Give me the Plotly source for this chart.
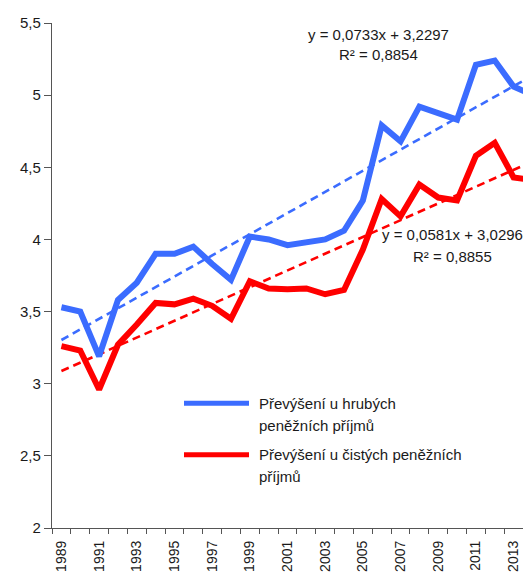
import plotly.graph_objects as go

years = list(range(1989, 2015))
gross = [3.53, 3.50, 3.19, 3.58, 3.70, 3.90, 3.90, 3.95, 3.83, 3.72, 4.02, 4.00,
         3.96, 3.98, 4.00, 4.06, 4.27, 4.79, 4.68, 4.92, 4.88, 4.83, 5.21, 5.24,
         5.06, 5.00]
net = [3.26, 3.23, 2.96, 3.27, 3.41, 3.56, 3.55, 3.59, 3.54, 3.45, 3.71, 3.66,
       3.655, 3.66, 3.62, 3.65, 3.93, 4.28, 4.16, 4.38, 4.29, 4.27, 4.58, 4.67,
       4.43, 4.41]

trend_gross = (0.0733, 3.2297, 0.8854)
trend_net = (0.0581, 3.0296, 0.8855)

series_names = ["Převýšení u hrubých", "peněžních příjmů",
                "Převýšení u čistých peněžních", "příjmů"]
eq_texts = ["y = 0,0733x + 3,2297", "R² = 0,8854",
            "y = 0,0581x + 3,0296", "R² = 0,8855"]

y_ticks = [2, 2.5, 3, 3.5, 4, 4.5, 5, 5.5]
y_ticktext = ["2", "2,5", "3", "3,5", "4", "4,5", "5", "5,5"]
x_label_years = list(range(1989, 2014, 2))

BLUE = "#3b6cff"
RED = "#ff0000"
FONT = "Liberation Sans, Arial, sans-serif"
TXT = "#1a1a1a"
AX = "#555555"

OFF = 8  # default page body margin
SW, SH = 531, 572  # screen size
PX0, PX1, PY0, PY1 = 52, 531, 23.3, 528.3
W, H = SW - OFF, SH - OFF
L, T = PX0 - OFF, PY0 - OFF
R = W - (PX1 - OFF)
B = H - (PY1 - OFF)
PW, PH = PX1 - PX0, PY1 - PY0


def px(xp):
    return (xp - PX0) / PW


def py(yp):
    return (PY1 - yp) / PH


def trend(coef, yrs):
    a, b, _ = coef
    return [a * (yy - 1988) + b for yy in yrs]


fig = go.Figure()
t_years = [years[0], years[-1]]
fig.add_trace(go.Scatter(x=t_years, y=trend(trend_gross, t_years), mode="lines",
                         line=dict(color=BLUE, width=2.6, dash="8px,5px"),
                         showlegend=False, hoverinfo="skip"))
fig.add_trace(go.Scatter(x=t_years, y=trend(trend_net, t_years), mode="lines",
                         line=dict(color=RED, width=2.6, dash="8px,5px"),
                         showlegend=False, hoverinfo="skip"))
fig.add_trace(go.Scatter(x=years, y=gross, mode="lines", name=series_names[0],
                         line=dict(color=BLUE, width=6), showlegend=False))
fig.add_trace(go.Scatter(x=years, y=net, mode="lines", name=series_names[2],
                         line=dict(color=RED, width=6), showlegend=False))

annotations = []
for txt, xc, yc in [(eq_texts[0], 378, 35), (eq_texts[1], 378, 55),
                    (eq_texts[2], 452, 235), (eq_texts[3], 452, 256.5)]:
    annotations.append(dict(text=txt, xref="paper", yref="paper", x=px(xc), y=py(yc),
                            xanchor="center", yanchor="middle", showarrow=False,
                            font=dict(family=FONT, size=15, color=TXT)))
for txt, yc in zip(series_names, [404, 426, 455, 477]):
    annotations.append(dict(text=txt, xref="paper", yref="paper", x=px(257), y=py(yc),
                            xanchor="left", yanchor="middle", showarrow=False,
                            font=dict(family=FONT, size=15, color=TXT)))

shapes = []
for col, yc in [(BLUE, 403.5), (RED, 455)]:
    shapes.append(dict(type="line", xref="paper", yref="paper",
                       x0=px(184), x1=px(249), y0=py(yc), y1=py(yc),
                       line=dict(color=col, width=5)))

fig.update_layout(
    width=W, height=H,
    margin=dict(l=L, r=R, t=T, b=B, pad=0),
    paper_bgcolor="white", plot_bgcolor="white",
    font=dict(family=FONT, size=15, color=TXT),
    annotations=annotations, shapes=shapes,
    separators=", ",
)
fig.update_xaxes(
    range=[1988.5, 1988.5 + PW / 18.84],
    tickmode="array", tickvals=x_label_years, ticktext=[str(v) for v in x_label_years],
    tickangle=-90, ticks="outside", ticklen=6, tickcolor="rgba(0,0,0,0)",
    tickfont=dict(family=FONT, size=14, color=TXT),
    showline=True, linecolor=AX, linewidth=1.3,
    showgrid=False, zeroline=False, automargin=False,
    minor=dict(tickmode="array", tickvals=[y - 0.5 for y in years + [2015]],
               ticks="outside", ticklen=5, tickcolor=AX, tickwidth=1.3, showgrid=False),
)
fig.update_yaxes(
    range=[2, 5.5], tickmode="array", tickvals=y_ticks, ticktext=y_ticktext,
    ticks="outside", ticklen=7, tickcolor=AX, tickwidth=1.3,
    tickfont=dict(family=FONT, size=15, color=TXT),
    showline=True, linecolor=AX, linewidth=1.3,
    showgrid=False, zeroline=False, automargin=False,
)

fig.write_html("out.html")
